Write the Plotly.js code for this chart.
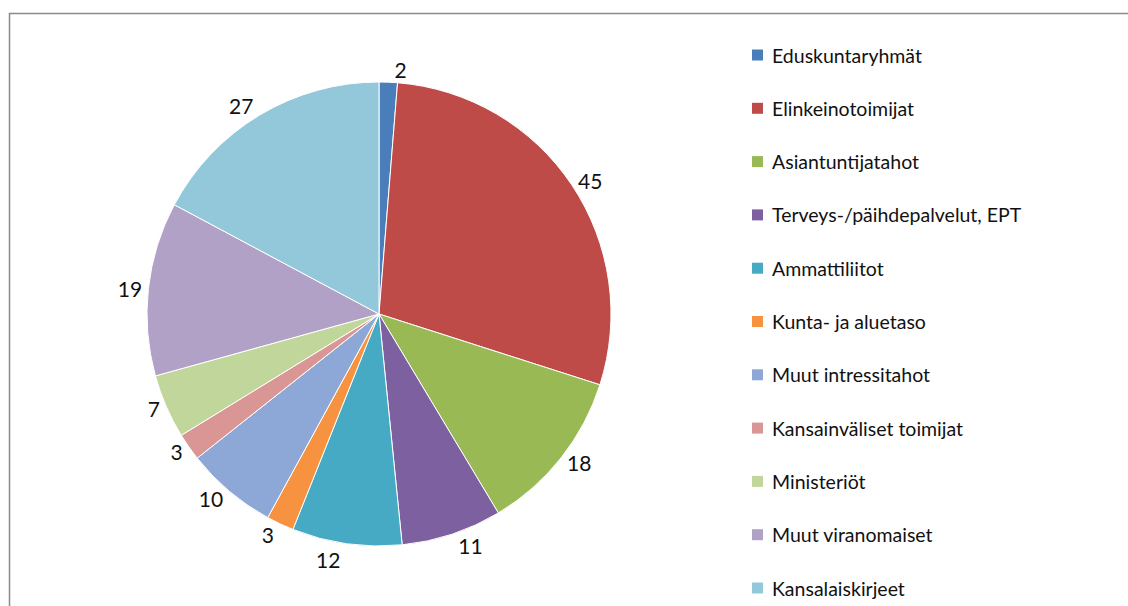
<!DOCTYPE html>
<html>
<head>
<meta charset="utf-8">
<script src="https://cdn.plot.ly/plotly-3.0.1.min.js"></script>
<style>html,body{margin:0;padding:0;background:#fff;}#chart{width:1128px;height:606px;}path.textline{display:none;}</style>
</head>
<body>
<div id="chart"></div>
<script>
const categories = ["Eduskuntaryhmät","Elinkeinotoimijat","Asiantuntijatahot","Terveys-/päihdepalvelut, EPT","Ammattiliitot","Kunta- ja aluetaso","Muut intressitahot","Kansainväliset toimijat","Ministeriöt","Muut viranomaiset","Kansalaiskirjeet"];
const values = [2,45,18,11,12,3,10,3,7,19,27];
const colors = ["#4A7EBB","#BE4B48","#98B954","#7D60A0","#46AAC5","#F69240","#8DA7D6","#D99694","#C0D69A","#B1A1C7","#93C8DA"];

const W = 1128, H = 606;
const px = x => x / W;
const py = y => 1 - y / H;

const shapes = [{
  type: "rect", xref: "paper", yref: "paper",
  x0: px(9.5), x1: px(1140), y0: py(620), y1: py(13.5),
  line: {color: "#8a8a8a", width: 1.5}, fillcolor: "rgba(0,0,0,0)"
}];
const annotations = [];
const legTop = 55, legStep = 53.3;
categories.forEach((c, i) => {
  const yc = legTop + legStep * i;
  shapes.push({
    type: "rect", xref: "paper", yref: "paper",
    x0: px(752), x1: px(763), y0: py(yc + 5.5), y1: py(yc - 5.5),
    line: {width: 0}, fillcolor: colors[i]
  });
  annotations.push({
    xref: "paper", yref: "paper", x: px(770), y: py(yc),
    xanchor: "left", yanchor: "middle", showarrow: false,
    text: c, font: {family: "Lato, sans-serif", size: 19.5, color: "#111111"}
  });
});

const trace = {
  type: "pie",
  labels: categories,
  values: values,
  sort: false,
  direction: "clockwise",
  rotation: 0,
  marker: {colors: colors, line: {color: "#ffffff", width: 1}},
  textinfo: "value",
  textposition: "outside",
  outsidetextfont: {family: "Lato, sans-serif", size: 21, color: "#111111"},
  hoverinfo: "label+value",
  showlegend: false,
  automargin: false,
  domain: {x: [px(147), px(611)], y: [py(546), py(82)]}
};

const layout = {
  width: W, height: H,
  margin: {l: 0, r: 0, t: 0, b: 0},
  paper_bgcolor: "#ffffff",
  showlegend: false,
  shapes: shapes,
  annotations: annotations
};

Plotly.newPlot("chart", [trace], layout, {displayModeBar: false, staticPlot: true});
</script>
</body>
</html>
